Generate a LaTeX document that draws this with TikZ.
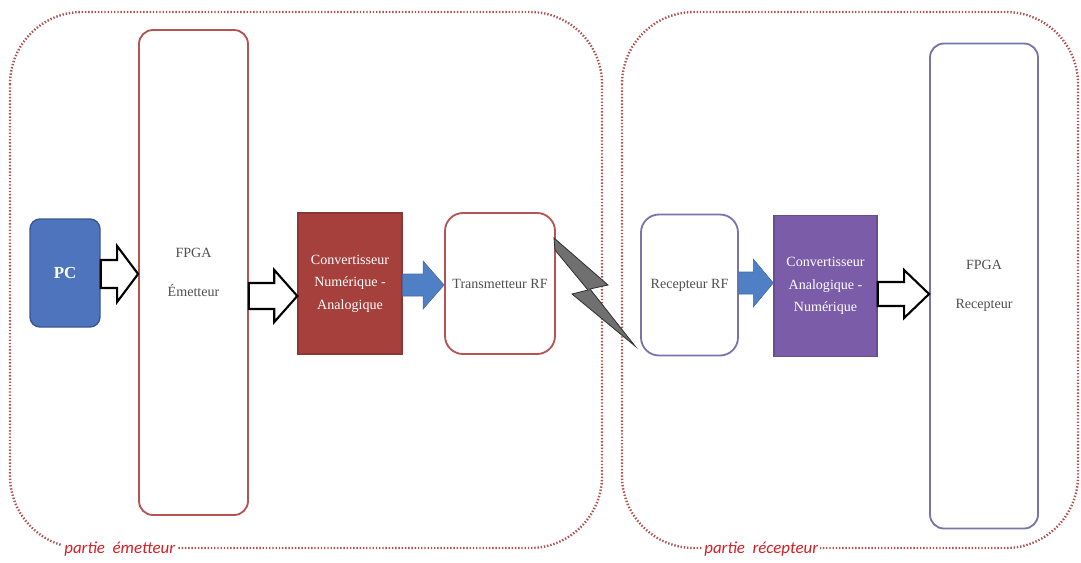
\documentclass[tikz,border=0pt]{standalone}
\usepackage{fontspec}
\setmainfont{Liberation Serif}
\newfontfamily\labelfont{Carlito}
\usetikzlibrary{calc}

\definecolor{pcblue}{RGB}{79,116,190}
\definecolor{arrowblue}{RGB}{79,127,197}
\definecolor{convred}{RGB}{166,64,60}
\definecolor{convviolet}{RGB}{122,92,168}
\definecolor{edgered}{RGB}{181,84,82}
\definecolor{edgeviolet}{RGB}{122,116,172}
\definecolor{zonered}{RGB}{176,82,80}
\definecolor{labelred}{RGB}{214,30,36}
\definecolor{textgray}{RGB}{80,80,80}
\definecolor{boltgray}{RGB}{112,112,112}

% one pixel of the layout
\def\px{0.025cm}

\tikzset{
  zone/.style={draw=zonered, line width=1.7pt, dash pattern=on 1pt off 1.3pt,
    rounded corners=1.8cm},
  zonelabel/.style={fill=white, inner sep=1.5pt, text=labelred, anchor=west,
    font=\labelfont\itshape\fontsize{12}{14}\selectfont},
  fpgabox/.style={draw, line width=1.3pt, rounded corners=0.35cm, fill=white,
    align=center, text=textgray, font=\fontsize{10}{28}\selectfont,
    minimum width=109*\px, minimum height=485*\px},
  rfbox/.style={draw, line width=1.3pt, rounded corners=0.45cm, fill=white,
    align=center, text=textgray, font=\fontsize{10}{16}\selectfont,
    minimum height=141*\px},
  convbox/.style={draw, line width=1pt, align=center, text=white,
    font=\fontsize{10}{16}\selectfont, minimum width=104*\px, minimum height=141*\px},
  hollow/.style={draw=black, fill=white, line width=1.5pt, line join=miter},
  bluearrow/.style={fill=arrowblue, draw=arrowblue!85!black, line width=0.4pt},
}

% block arrow: style, from node, to node, row, tail half, head half, head length
\newcommand{\fatarrow}[7]{%
  \coordinate (s) at (#2.east |- 0,#4);
  \coordinate (e) at (#3.west |- 0,#4);
  \draw[#1] ($(s)+(0,-#5)$) -- ($(e)+(-#7,-#5)$) -- ($(e)+(-#7,-#6)$) -- (e)
    -- ($(e)+(-#7,#6)$) -- ($(e)+(-#7,#5)$) -- ($(s)+(0,#5)$) -- cycle;
}

\begin{document}
\begin{tikzpicture}[x=0.025cm, y=-0.025cm]
  \useasboundingbox (0,0) rectangle (1081,562);

  % the two parts
  \draw[zone] (10,12) rectangle (602,548);
  \draw[zone] (622,12) rectangle (1078,548);
  \node[zonelabel] (lblE) at (62,549) {partie\ \ émetteur};
  \node[zonelabel] (lblR) at (702,549) {partie\ \ récepteur};

  % emitter side
  \node[draw=pcblue!75!black, fill=pcblue, line width=1pt, rounded corners=0.25cm,
    minimum width=70*\px, minimum height=108*\px, text=white,
    font=\bfseries\fontsize{12}{14}\selectfont] (pc) at (65,273) {PC};
  \node[fpgabox, draw=edgered] (fpgaE) at (193.5,272.5) {FPGA\\Émetteur};
  \node[convbox, fill=convred, draw=convred!85!black] (cna) at (350,283.5)
    {Convertisseur\\Numérique -\\Analogique};
  \node[rfbox, draw=edgered, minimum width=110*\px] (trans) at (500,283.5)
    {Transmetteur RF};

  % receiver side
  \node[rfbox, draw=edgeviolet, minimum width=97*\px] (recRF) at (689.5,285)
    {Recepteur RF};
  \node[convbox, fill=convviolet, draw=convviolet!85!black, minimum width=103*\px]
    (can) at (825.5,286) {Convertisseur\\Analogique -\\Numérique};
  \node[fpgabox, draw=edgeviolet, minimum width=108*\px] (fpgaR) at (984,286)
    {FPGA\\Recepteur};

  % arrows
  \fatarrow{hollow}{pc}{fpgaE}{274}{14}{28}{21}
  \fatarrow{hollow}{fpgaE}{cna}{296}{13}{26}{23}
  \fatarrow{bluearrow}{cna}{trans}{285}{11}{24}{21}
  \fatarrow{bluearrow}{recRF}{can}{283}{11}{24}{20}
  \fatarrow{hollow}{can}{fpgaR}{294}{12}{24}{25}

  % radio link
  \draw[fill=boltgray, draw=black!80, line width=0.6pt, line join=miter]
    (554,238) -- (608,285) -- (590,289) -- (635,346) -- (572,294)
    -- (588,290) -- (555,250) -- cycle;
\end{tikzpicture}
\end{document}
